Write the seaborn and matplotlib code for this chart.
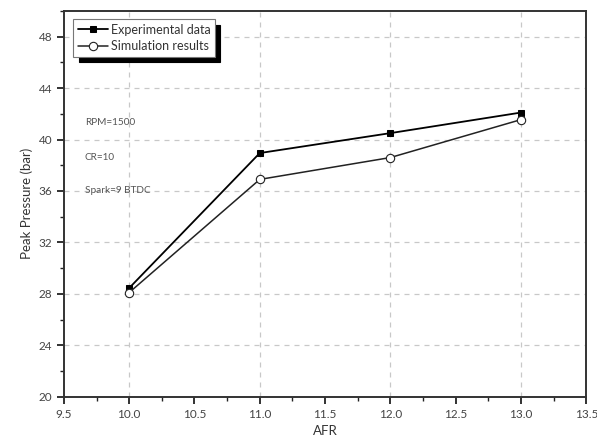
import matplotlib
matplotlib.use("Agg")
import matplotlib.pyplot as plt
import seaborn as sns
import pandas as pd
from matplotlib.ticker import MultipleLocator

afr = [10.0, 11.0, 12.0, 13.0]
experimental = [28.45, 38.95, 40.5, 42.1]
simulation = [28.1, 36.9, 38.6, 41.55]
series_names = ["Experimental data", "Simulation results"]
annotations = ["RPM=1500", "CR=10", "Spark=9 BTDC"]
annot_y = [41.3, 38.6, 36.0]

sns.set_style("white")
plt.rcParams['font.family'] = ['Lato', 'DejaVu Sans']

df = pd.DataFrame({
    "AFR": afr * 2,
    "P": experimental + simulation,
    "series": [series_names[0]] * len(afr) + [series_names[1]] * len(afr),
})

fig = plt.figure(figsize=(5.97, 4.48), dpi=100)
ax = fig.add_axes([0.107, 0.1145, 0.875, 0.861])

sns.lineplot(data=df[df.series == series_names[0]], x="AFR", y="P", ax=ax,
             color="black", lw=1.3, marker="s", markersize=5,
             markerfacecolor="black", markeredgecolor="black",
             label=series_names[0])
sns.lineplot(data=df[df.series == series_names[1]], x="AFR", y="P", ax=ax,
             color="#222222", lw=1.1, marker="o", markersize=6,
             markerfacecolor="white", markeredgecolor="#222222", markeredgewidth=0.8,
             label=series_names[1])

ax.set_xlim(9.5, 13.5)
ax.set_ylim(20, 50)
ax.xaxis.set_minor_locator(MultipleLocator(0.25))
ax.yaxis.set_minor_locator(MultipleLocator(2))
ax.set_xticks([9.5, 10.0, 10.5, 11.0, 11.5, 12.0, 12.5, 13.0, 13.5])
ax.set_xticklabels(["9.5", "10.0", "10.5", "11.0", "11.5", "12.0", "12.5", "13.0", "13.5"])
ax.set_yticks([20, 24, 28, 32, 36, 40, 44, 48])

ax.tick_params(axis="both", which="major", direction="out", length=5, width=1.3,
               colors="#222222", labelcolor="#444444", labelsize=8.5, bottom=True, left=True)
ax.tick_params(axis="both", which="minor", direction="out", length=3, width=1.0,
               colors="#222222", bottom=True, left=True)

for s in ax.spines.values():
    s.set_visible(True)
    s.set_color("#333333")
    s.set_linewidth(1.4)

for x in [10, 11, 12, 13]:
    ax.axvline(x, color="#c8c8c8", lw=0.9, ls=(0, (4, 4)), zorder=0)
for y in [24, 28, 32, 36, 40, 44, 48]:
    ax.axhline(y, color="#c8c8c8", lw=0.9, ls=(0, (4, 4)), zorder=0)

ax.set_xlabel("AFR", fontsize=9.5, color="#333333")
ax.set_ylabel("Peak Pressure (bar)", fontsize=9.5, color="#333333")

for t, y in zip(annotations, annot_y):
    ax.text(9.66, y, t, fontsize=7.2, color="#555555", va="center", ha="left")

leg = ax.legend(loc="upper left", bbox_to_anchor=(0.018, 0.978), borderaxespad=0,
                fancybox=False, shadow={"color": "black", "alpha": 1.0, "ox": 4, "oy": -4},
                fontsize=9, handlelength=2.4, handletextpad=0.25,
                borderpad=0.35, labelspacing=0.35, framealpha=1, edgecolor="#777777")
leg.get_frame().set_linewidth(0.8)
for t in leg.get_texts():
    t.set_color("#333333")

fig.savefig("out.png", dpi=100)
